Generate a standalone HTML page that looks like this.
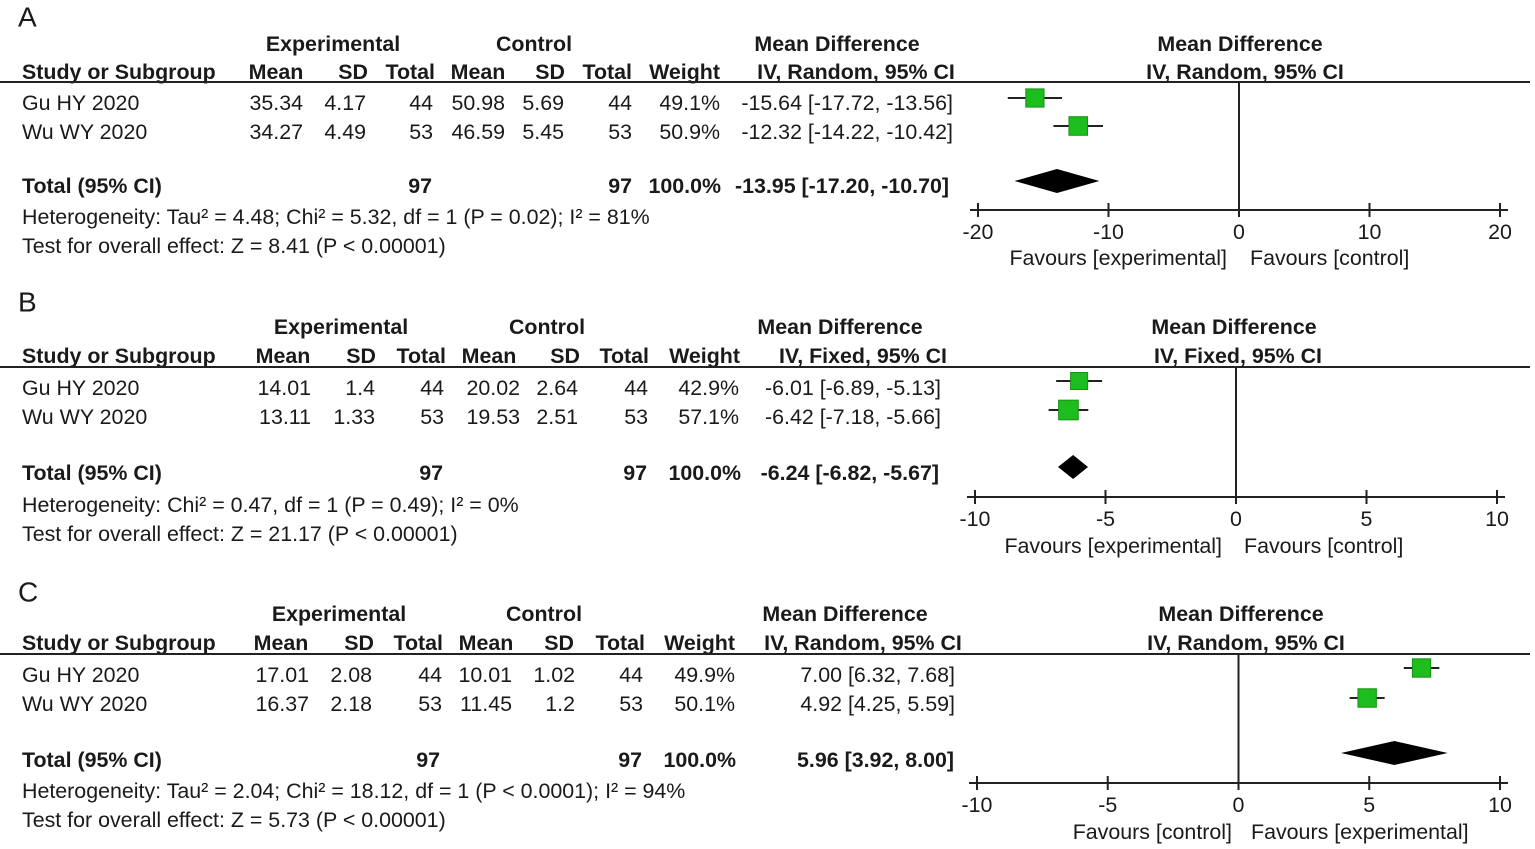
<!DOCTYPE html>
<html><head><meta charset="utf-8"><style>
body{margin:0;background:#fff;}
svg{display:block;font-family:"Liberation Sans",Arial,sans-serif;}
</style></head><body>
<svg id="c" width="1535" height="849"></svg>
<script>
// Panel A data
const studiesA = ["Gu HY 2020","Wu WY 2020"];
const mdA = [-15.64,-12.32], loA=[-17.72,-14.22], hiA=[-13.56,-10.42], wA=[49.1,50.9];
const pooledA=[-13.95,-17.20,-10.70];
const ticksA=[-20,-10,0,10,20];
// Panel B data
const mdB=[-6.01,-6.42], loB=[-6.89,-7.18], hiB=[-5.13,-5.66], wB=[42.9,57.1];
const pooledB=[-6.24,-6.82,-5.67];
const ticksB=[-10,-5,0,5,10];
// Panel C data
const mdC=[7.00,4.92], loC=[6.32,4.25], hiC=[7.68,5.59], wC=[49.9,50.1];
const pooledC=[5.96,3.92,8.00];
const ticksC=[-10,-5,0,5,10];

const NS="http://www.w3.org/2000/svg";
const svg=document.getElementById('c');
function el(tag,attrs,name){const e=document.createElementNS(NS,tag);for(const k in attrs)e.setAttribute(k,attrs[k]);


svg.appendChild(e);return e;}
function T(x,y,s,anchor,bold,name,size){const e=el('text',{x:x,y:y,'text-anchor':anchor||'start','font-size':size||21.4,'font-weight':bold?'bold':'normal',fill:'#1a1a1a','dominant-baseline':'central'},name);e.textContent=s;return e;}

const panels=[
{L:"A",ly:17,hy:44,ry:72,line:82,expC:333,ctlC:534,mdC:837,cols:{m:276,sd:368,t:435,m2:478,sd2:565,t2:632,w:720,ci:856},ci:"IV, Random, 95% CI",
 rows:[103,132],rc:[303,366,433,505,564,632,720,953],
 vals:[["35.34","4.17","44","50.98","5.69","44","49.1%","-15.64 [-17.72, -13.56]"],["34.27","4.49","53","46.59","5.45","53","50.9%","-12.32 [-14.22, -10.42]"]],
 ty:186,tc:[432,632,721,949],tci:"-13.95 [-17.20, -10.70]",het:"Heterogeneity: Tau² = 4.48; Chi² = 5.32, df = 1 (P = 0.02); I² = 81%",test:"Test for overall effect: Z = 8.41 (P < 0.00001)",hy2:217,tsy:246,
 x0:1240,xmin:978,xmax:1500,tmin:-20,tmax:20,ax:210,ticks:ticksA,md:mdA,lo:loA,hi:hiA,w:wA,pool:pooledA,sq:[98,126],dy:181,fy:258,fl:"Favours [experimental]",fr:"Favours [control]",flx:1227,frx:1250,fhC:1240,fiC:1245},
{L:"B",ly:302,hy:327,ry:356,line:367,expC:341,ctlC:547,mdC:840,cols:{m:283,sd:376,t:446,m2:489,sd2:580,t2:649,w:740,ci:863},ci:"IV, Fixed, 95% CI",
 rows:[388,417],rc:[311,375,444,520,578,648,739,941],
 vals:[["14.01","1.4","44","20.02","2.64","44","42.9%","-6.01 [-6.89, -5.13]"],["13.11","1.33","53","19.53","2.51","53","57.1%","-6.42 [-7.18, -5.66]"]],
 ty:473,tc:[443,647,741,939],tci:"-6.24 [-6.82, -5.67]",het:"Heterogeneity: Chi² = 0.47, df = 1 (P = 0.49); I² = 0%",test:"Test for overall effect: Z = 21.17 (P < 0.00001)",hy2:505,tsy:534,
 x0:1234,xmin:975,xmax:1497,tmin:-10,tmax:10,ax:497,ticks:ticksB,md:mdB,lo:loB,hi:hiB,w:wB,pool:pooledB,sq:[381,410],dy:467,fy:546,fl:"Favours [experimental]",fr:"Favours [control]",flx:1222,frx:1244,fhC:1234,fiC:1238},
{L:"C",ly:592,hy:614,ry:643,line:654,expC:339,ctlC:544,mdC:845,cols:{m:281,sd:374,t:443,m2:486,sd2:574,t2:645,w:735,ci:863},ci:"IV, Random, 95% CI",
 rows:[675,704],rc:[309,372,442,512,575,643,735,955],
 vals:[["17.01","2.08","44","10.01","1.02","44","49.9%","7.00 [6.32, 7.68]"],["16.37","2.18","53","11.45","1.2","53","50.1%","4.92 [4.25, 5.59]"]],
 ty:760,tc:[440,642,736,954],tci:"5.96 [3.92, 8.00]",het:"Heterogeneity: Tau² = 2.04; Chi² = 18.12, df = 1 (P < 0.0001); I² = 94%",test:"Test for overall effect: Z = 5.73 (P < 0.00001)",hy2:791,tsy:820,
 x0:1242,xmin:977,xmax:1500,tmin:-10,tmax:10,ax:783,ticks:ticksC,md:mdC,lo:loC,hi:hiC,w:wC,pool:pooledC,sq:[668,698],dy:753,fy:832,fl:"Favours [control]",fr:"Favours [experimental]",flx:1232,frx:1251,fhC:1241,fiC:1246}
];

panels.forEach(p=>{
 const id=p.L.toLowerCase();
 T(18,p.ly,p.L,'start',false,'panel-label-'+id,28);
 T(p.expC,p.hy,"Experimental",'middle',true,'experimental-header');
 T(p.ctlC,p.hy,"Control",'middle',true,'control-header');
 T(p.mdC,p.hy,"Mean Difference",'middle',true,'mean-difference-header');
 T(p.fhC,p.hy,"Mean Difference",'middle',true,'plot-header');
 T(22,p.ry,"Study or Subgroup",'start',true,'study-column-header');
 const c=p.cols;
 T(c.m,p.ry,"Mean",'middle',true,'exp-mean-header');
 T(c.sd,p.ry,"SD",'end',true,'exp-sd-header');
 T(c.t,p.ry,"Total",'end',true,'exp-total-header');
 T(c.m2,p.ry,"Mean",'middle',true,'ctl-mean-header');
 T(c.sd2,p.ry,"SD",'end',true,'ctl-sd-header');
 T(c.t2,p.ry,"Total",'end',true,'ctl-total-header');
 T(c.w,p.ry,"Weight",'end',true,'weight-header');
 T(c.ci,p.ry,p.ci,'middle',true,'ci-header');
 T(p.fiC,p.ry,p.ci,'middle',true,'plot-ci-header');
 el('line',{x1:0,x2:1530,y1:p.line,y2:p.line,stroke:'#222','stroke-width':2},'header-rule-'+id);
 p.rows.forEach((y,i)=>{
  T(22,y,studiesA[i],'start',false,'study-name');
  p.vals[i].forEach((v,j)=>T(p.rc[j],y,v,'end',false,'study-value'));
 });
 T(22,p.ty,"Total (95% CI)",'start',true,'total-label');
 T(p.tc[0],p.ty,"97",'end',true,'exp-total');
 T(p.tc[1],p.ty,"97",'end',true,'ctl-total');
 T(p.tc[2],p.ty,"100.0%",'end',true,'total-weight');
 T(p.tc[3],p.ty,p.tci,'end',true,'total-ci');
 T(22,p.hy2,p.het,'start',false,'heterogeneity-text');
 T(22,p.tsy,p.test,'start',false,'overall-effect-text');
 const sx=v=>p.xmin+(v-p.tmin)/(p.tmax-p.tmin)*(p.xmax-p.xmin);
 el('line',{x1:sx(0),x2:sx(0),y1:p.line,y2:p.ax,stroke:'#222','stroke-width':2},'null-line');
 el('line',{x1:p.xmin-8,x2:p.xmax+8,y1:p.ax,y2:p.ax,stroke:'#222','stroke-width':2},'x-axis');
 p.ticks.forEach(t=>{
  el('line',{x1:sx(t),x2:sx(t),y1:p.ax-7,y2:p.ax+7,stroke:'#222','stroke-width':2},'x-tick');
  T(sx(t),p.ax+22,String(t),'middle',false,'x-tick-label');
 });
 T(p.flx,p.fy,p.fl,'end',false,'favours-left');
 T(p.frx,p.fy,p.fr,'start',false,'favours-right');
 p.md.forEach((m,i)=>{
  const y=p.sq[i];
  el('line',{x1:sx(p.lo[i]),x2:sx(p.hi[i]),y1:y,y2:y,stroke:'#222','stroke-width':2},'ci-line');
  const s=Math.sqrt(p.w[i])*2.6;
  el('rect',{x:sx(m)-s/2,y:y-s/2,width:s,height:s,fill:'#1dbd1d',stroke:'#159015','stroke-width':1},'study-marker');
 });
 const [pe,pl,ph]=p.pool;
 el('polygon',{points:`${sx(pl)},${p.dy} ${sx(pe)},${p.dy-12} ${sx(ph)},${p.dy} ${sx(pe)},${p.dy+12}`,fill:'#000'},'pooled-diamond');
});
</script>
</body></html>
